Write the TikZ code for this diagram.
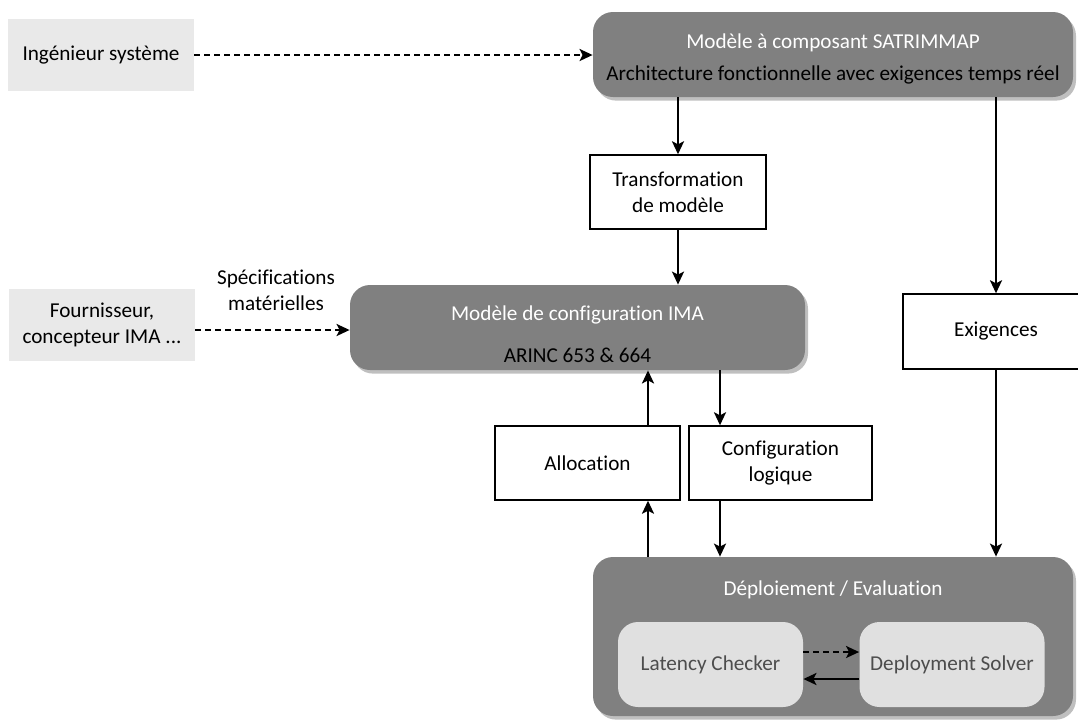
\documentclass[tikz,border=0pt]{standalone}
\usepackage{fontspec}
\setmainfont{Carlito}[Ligatures=NoCommon]
\usetikzlibrary{positioning, arrows.meta, shadows}
\definecolor{modelgray}{RGB}{128,128,128}
\definecolor{actorgray}{RGB}{233,233,233}
\definecolor{toolgray}{RGB}{224,224,224}
\definecolor{tooltext}{RGB}{77,77,77}

\begin{document}
\begin{tikzpicture}[x=0.5pt, y=-0.5pt, font=\fontsize{10.6}{13}\selectfont,
  actor/.style={fill=actorgray, minimum width=93pt, minimum height=36pt, align=center, inner sep=0pt},
  model/.style={fill=modelgray, rounded corners=10pt, drop shadow={shadow xshift=1.5pt, shadow yshift=-1.8pt, opacity=0.5}},
  stepbox/.style={draw, fill=white, line width=0.7pt, minimum height=37pt, align=center, inner sep=0pt},
  tool/.style={fill=toolgray, rounded corners=10pt, text=tooltext, minimum width=92.5pt, minimum height=42.5pt},
  flow/.style={line width=1.1pt, -{Stealth[length=6.5pt, width=6pt, inset=1.5pt]}},
  hint/.style={flow, dash pattern=on 3pt off 2pt}]
  \useasboundingbox (0,0) rectangle (1078,720);

  % Actors
  \node[actor] (inge) at (101,55) {Ingénieur système};
  \node[actor] (fourn) at (102,325) {Fournisseur,\\concepteur IMA ...};
  \node[align=center] (specs) at (276,290) {Spécifications\\matérielles};

  % Models
  \node[model, minimum width=240pt, minimum height=42.5pt] (satri) at (833,54.5) {};
  \node[white] (satrititle) at (833,43) {Modèle à composant SATRIMMAP};
  \node (satrisub) at (833,75) {Architecture fonctionnelle avec exigences temps réel};
  \node[model, minimum width=227.5pt, minimum height=42.5pt] (ima) at (577.5,327.5) {};
  \node[white] (imatitle) at (577.5,315) {Modèle de configuration IMA};
  \node (imasub) at (577.5,355) {ARINC 653 \& 664};

  % Steps
  \node[stepbox, minimum width=88pt] (transfo) at (678,192) {Transformation\\de modèle};
  \node[stepbox, minimum width=93pt, minimum height=37.5pt] (exig) at (996,331.5) {Exigences};
  \node[stepbox, minimum width=92.5pt] (alloc) at (587.5,463) {Allocation};
  \node[stepbox, minimum width=91.5pt] (config) at (780.5,463) {Configuration\\logique};

  % Deployment
  \node[model, minimum width=240pt, minimum height=79.5pt] (deploy) at (833,636.5) {};
  \node[white] (deploytitle) at (833,590) {Déploiement / Evaluation};
  \node[tool] (latency) at (710.5,664.5) {Latency Checker};
  \node[tool] (solver) at (952,664.5) {Deployment Solver};

  % Connectors
  \coordinate (allocx) at (648,0);
  \coordinate (configx) at (720,0);
  \draw[hint] (inge.east) -- (inge.east -| satri.west);
  \draw[hint] ([yshift=-2.5pt]fourn.east) -- ([yshift=-2.5pt]fourn.east -| ima.west);
  \draw[flow] (satri.south -| transfo.north) -- (transfo.north);
  \draw[flow] (transfo.south) -- (transfo.south |- ima.north);
  \draw[flow] (satri.south -| exig.north) -- (exig.north);
  \draw[flow] (exig.south) -- (exig.south |- deploy.north);
  \draw[flow] (deploy.north -| allocx) -- (alloc.south -| allocx);
  \draw[flow] (alloc.north -| allocx) -- (ima.south -| allocx);
  \draw[flow] (ima.south -| configx) -- (config.north -| configx);
  \draw[flow] (config.south -| configx) -- (deploy.north -| configx);
  \draw[hint] ([yshift=6.25pt]latency.east) -- ([yshift=6.25pt]solver.west);
  \draw[flow] ([yshift=-7.25pt]solver.west) -- ([yshift=-7.25pt]latency.east);
\end{tikzpicture}
\end{document}
